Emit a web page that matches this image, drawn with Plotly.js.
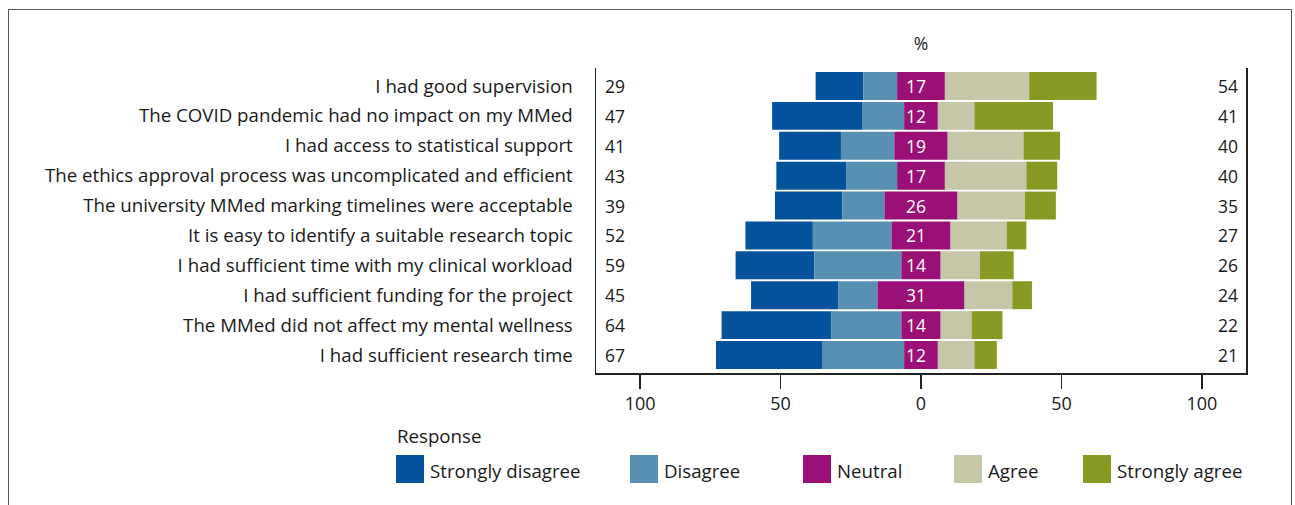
<!DOCTYPE html>
<html>
<head>
<meta charset="utf-8">
<script src="https://cdn.plot.ly/plotly-3.0.1.min.js"></script>
<style>html,body{margin:0;padding:0;background:#fff;}#chart{width:1295px;height:505px;}</style>
</head>
<body>
<div id="chart"></div>
<script>
// ---- data ----
const statements = [
  "I had good supervision",
  "The COVID pandemic had no impact on my MMed",
  "I had access to statistical support",
  "The ethics approval process was uncomplicated and efficient",
  "The university MMed marking timelines were acceptable",
  "It is easy to identify a suitable research topic",
  "I had sufficient time with my clinical workload",
  "I had sufficient funding for the project",
  "The MMed did not affect my mental wellness",
  "I had sufficient research time"
];
const stronglyDisagree = [17, 32, 22, 25, 24, 24, 28, 31, 39, 38];
const disagree         = [12, 15, 19, 18, 15, 28, 31, 14, 25, 29];
const neutral          = [17, 12, 19, 17, 26, 21, 14, 31, 14, 12];
const agree            = [30, 13, 27, 29, 24, 20, 14, 17, 11, 13];
const stronglyAgree    = [24, 28, 13, 11, 11,  7, 12,  7, 11,  8];
const leftTotals   = [29, 47, 41, 43, 39, 52, 59, 45, 64, 67];
const rightTotals  = [54, 41, 40, 40, 35, 27, 26, 24, 22, 21];
const tickVals  = [-100, -50, 0, 50, 100];
const tickTexts = ["100", "50", "0", "50", "100"];
const responseNames = ["Strongly disagree", "Disagree", "Neutral", "Agree", "Strongly agree"];
const responseColors = ["#03529b", "#5790b0", "#9b1077", "#c6c6a8", "#889a23"];

// ---- geometry helpers (pixel layout) ----
const W = 1295, H = 505;
const M = {l: 596, r: 49, t: 68, b: 132};
const PW = W - M.l - M.r, PH = H - M.t - M.b;
const px2x = p => (p - M.l) / PW;
const py2y = p => (H - M.b - p) / PH;
const FONT = "Open Sans, sans-serif";
const TXT = "#1a1a1a";
const LABEL_SIZE = 18.7;
const NUM_SIZE = 17.5;

// bar bases
const half = neutral.map(v => v / 2);
const baseD  = half.map((h, i) => -h - disagree[i]);
const baseSD = baseD.map((b, i) => b - stronglyDisagree[i]);
const baseA  = half.slice();
const baseSA = half.map((h, i) => h + agree[i]);
const baseN  = half.map(h => -h);

function barTrace(vals, base, k) {
  return {
    type: "bar", orientation: "h", y: statements, x: vals, base: base,
    name: responseNames[k], marker: {color: responseColors[k], line: {width: 0}},
    showlegend: false, hoverinfo: "name+x"
  };
}
const traces = [
  barTrace(stronglyDisagree, baseSD, 0),
  barTrace(disagree, baseD, 1),
  barTrace(neutral, baseN, 2),
  barTrace(agree, baseA, 3),
  barTrace(stronglyAgree, baseSA, 4)
];

const annotations = [];
statements.forEach((s, i) => {
  annotations.push({x: 0, xref: "paper", y: s, yref: "y", text: String(leftTotals[i]),
    xanchor: "left", yanchor: "middle", xshift: 7, showarrow: false, font: {family: FONT, size: NUM_SIZE, color: TXT}});
  annotations.push({x: 1, xref: "paper", y: s, yref: "y", text: String(rightTotals[i]),
    xanchor: "right", yanchor: "middle", xshift: -6, showarrow: false, font: {family: FONT, size: NUM_SIZE, color: TXT}});
  annotations.push({x: 0, xref: "x", y: s, yref: "y", text: String(neutral[i]),
    xanchor: "center", yanchor: "middle", xshift: -5, showarrow: false, font: {family: FONT, size: NUM_SIZE, color: "#ffffff"}});
});

// manual legend
const legendSquareX = [396, 630, 803, 954, 1083];
const shapes = [];
annotations.push({x: px2x(395), xref: "paper", y: py2y(435), yref: "paper", text: "Response",
  xanchor: "left", yanchor: "middle", showarrow: false, font: {family: FONT, size: LABEL_SIZE, color: TXT}});
responseNames.forEach((n, k) => {
  const x0 = legendSquareX[k];
  shapes.push({type: "rect", xref: "paper", yref: "paper", x0: px2x(x0), x1: px2x(x0 + 28),
    y0: py2y(483), y1: py2y(455), fillcolor: responseColors[k], line: {width: 0}});
  annotations.push({x: px2x(x0 + 32), xref: "paper", y: py2y(470), yref: "paper", text: n,
    xanchor: "left", yanchor: "middle", showarrow: false, font: {family: FONT, size: LABEL_SIZE, color: TXT}});
});
// outer frame
shapes.push({type: "rect", xref: "paper", yref: "paper", x0: px2x(8.5), x1: px2x(1291.5),
  y0: py2y(520), y1: py2y(9.5), line: {color: "#555555", width: 1}, fillcolor: "rgba(0,0,0,0)", layer: "below"});

const layout = {
  width: W, height: H,
  margin: M,
  paper_bgcolor: "#ffffff", plot_bgcolor: "#ffffff",
  barmode: "overlay", bargap: 0.065,
  font: {family: FONT, size: NUM_SIZE, color: TXT},
  title: {text: "%", x: 921 / W, xref: "container", xanchor: "center", y: 1 - 44 / H, yref: "container", yanchor: "middle",
    font: {family: FONT, size: NUM_SIZE, color: TXT}},
  xaxis: {range: [-115.7, 115.7], tickvals: tickVals, ticktext: tickTexts, ticks: "outside", ticklen: 14, tickwidth: 1.5,
    tickcolor: "#222", showline: true, linecolor: "#222", linewidth: 1.5, showgrid: false, zeroline: false,
    tickfont: {family: FONT, size: 18, color: TXT}, fixedrange: true},
  yaxis: {type: "category", categoryorder: "array", categoryarray: statements, range: [9.602, -0.602],
    showline: true, mirror: true, linecolor: "#222", linewidth: 1.5, showgrid: false, zeroline: false, ticks: "",
    ticklabelstandoff: 18, tickfont: {family: FONT, size: LABEL_SIZE, color: TXT}, fixedrange: true},
  annotations: annotations,
  shapes: shapes,
  showlegend: false
};
Plotly.newPlot("chart", traces, layout, {displayModeBar: false, staticPlot: true});
</script>
</body>
</html>
